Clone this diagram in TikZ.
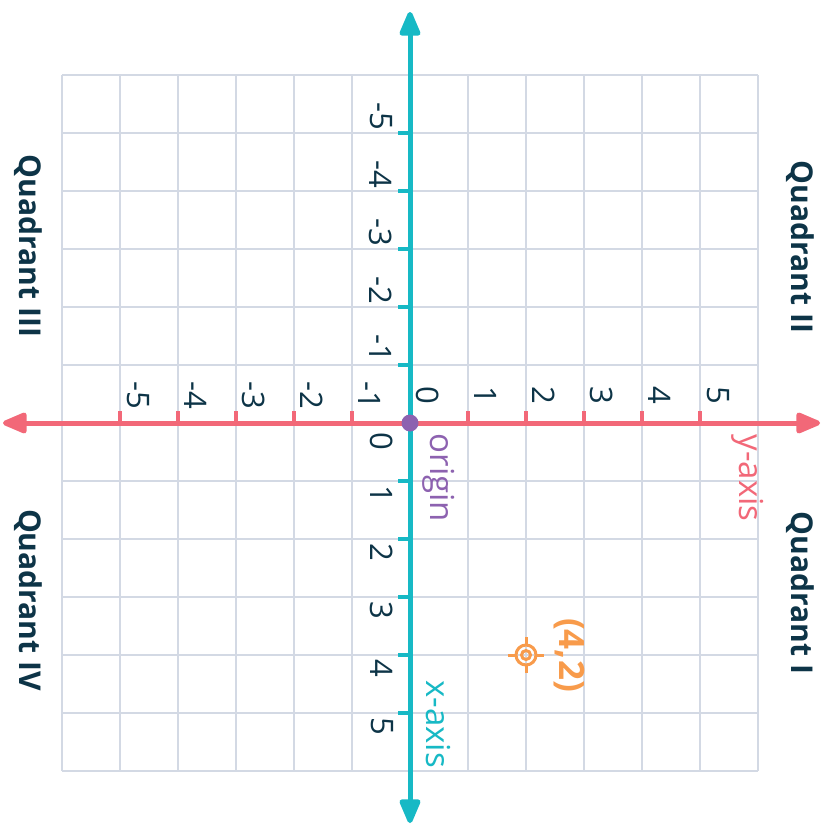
\documentclass[tikz,border=0pt]{standalone}
\usepackage{fontspec}
\setmainfont{Open Sans}
\usetikzlibrary{arrows.meta}
\definecolor{navy}{HTML}{0D3447}
\definecolor{teal}{HTML}{17B9C5}
\definecolor{pinkax}{HTML}{F26878}
\definecolor{purp}{HTML}{8D62B0}
\definecolor{orng}{HTML}{F89B4B}
\definecolor{gridc}{HTML}{D3D9E4}
\tikzset{
  gridline/.style={draw=gridc, line width=1.4pt},
  axisH/.style={draw=pinkax, line width=5pt},
  axisV/.style={draw=teal, line width=5pt},
  tickH/.style={draw=pinkax, line width=4pt},
  tickV/.style={draw=teal, line width=4pt},
  numlab/.style={text=navy, rotate=-90, inner sep=0pt, font=\fontsize{31}{36}\selectfont},
  quadlab/.style={text=navy, rotate=-90, inner sep=0pt, font=\fontsize{30}{35}\selectfont\bfseries},
  axlab/.style={rotate=-90, inner sep=0pt, font=\fontsize{33}{38}\selectfont},
}
\begin{document}
\begin{tikzpicture}[x=1pt,y=-1pt]
\useasboundingbox (0,0) rectangle (831,827);
\fill[white] (0,0) rectangle (831,827);
% grid
\foreach \i in {0,...,12} {
  \draw[gridline] (62+58*\i,75) -- (62+58*\i,771);
  \draw[gridline] (62,75+58*\i) -- (758,75+58*\i);
}
% axes
\coordinate (hl) at (3,423);
\coordinate (hr) at (820,423);
\coordinate (vt) at (410,12);
\coordinate (vb) at (410,823);
\coordinate (O) at (410,423);
\draw[axisH, {Triangle[round, length=28pt, width=22pt]}-{Triangle[round, length=28pt, width=22pt]}] (hl) -- (hr);
\draw[axisV, {Triangle[round, length=28pt, width=22pt]}-{Triangle[round, length=28pt, width=22pt]}] (vt) -- (vb);
% ticks
\foreach \k in {-5,...,-1,1,2,...,5} {
  \draw[tickH] (410+58*\k,423) -- ++(0,-12);
  \draw[tickV] (410,423+58*\k) -- ++(-12,0);
}
% horizontal axis labels
\foreach \k in {-5,...,5} {
  \node[numlab] at (410+58*\k+18,395) {\k};
}
% vertical axis labels
\foreach \k in {-5,...,-1} {
  \node[numlab] at (381,423+58*\k-17) {\k};
}
\foreach \k in {1,...,5} {
  \node[numlab] at (382,423+58*\k+13) {\k};
}
\node[numlab] (vzero) at (382,441) {0};
% origin
\fill[purp] (O) circle (8.5);
\node[axlab, text=purp] (origin) at (439,478) {origin};
\node[axlab, text=pinkax] (yaxis) at (748,478) {y-axis};
\node[axlab, text=teal] (xaxis) at (438,724) {x-axis};
% point
\coordinate (P) at (526,655);
\draw[orng, line width=3pt] (P) circle (10);
\draw[orng, line width=3pt] (P) circle (4.5);
\foreach \a in {0,90,180,270} {
  \draw[orng, line width=3pt] (P) ++(\a:10) -- ++(\a:8);
}
\node[axlab, text=orng, font=\fontsize{35}{40}\selectfont\bfseries] (plab) at (569,655) {(4,2)};
% quadrant labels
\node[quadlab] (q3) at (28,246) {Quadrant III};
\node[quadlab] (q2) at (800,247) {Quadrant II};
\node[quadlab] (q4) at (28,600) {Quadrant IV};
\node[quadlab] (q1) at (800,593) {Quadrant I};
\end{tikzpicture}
\end{document}
